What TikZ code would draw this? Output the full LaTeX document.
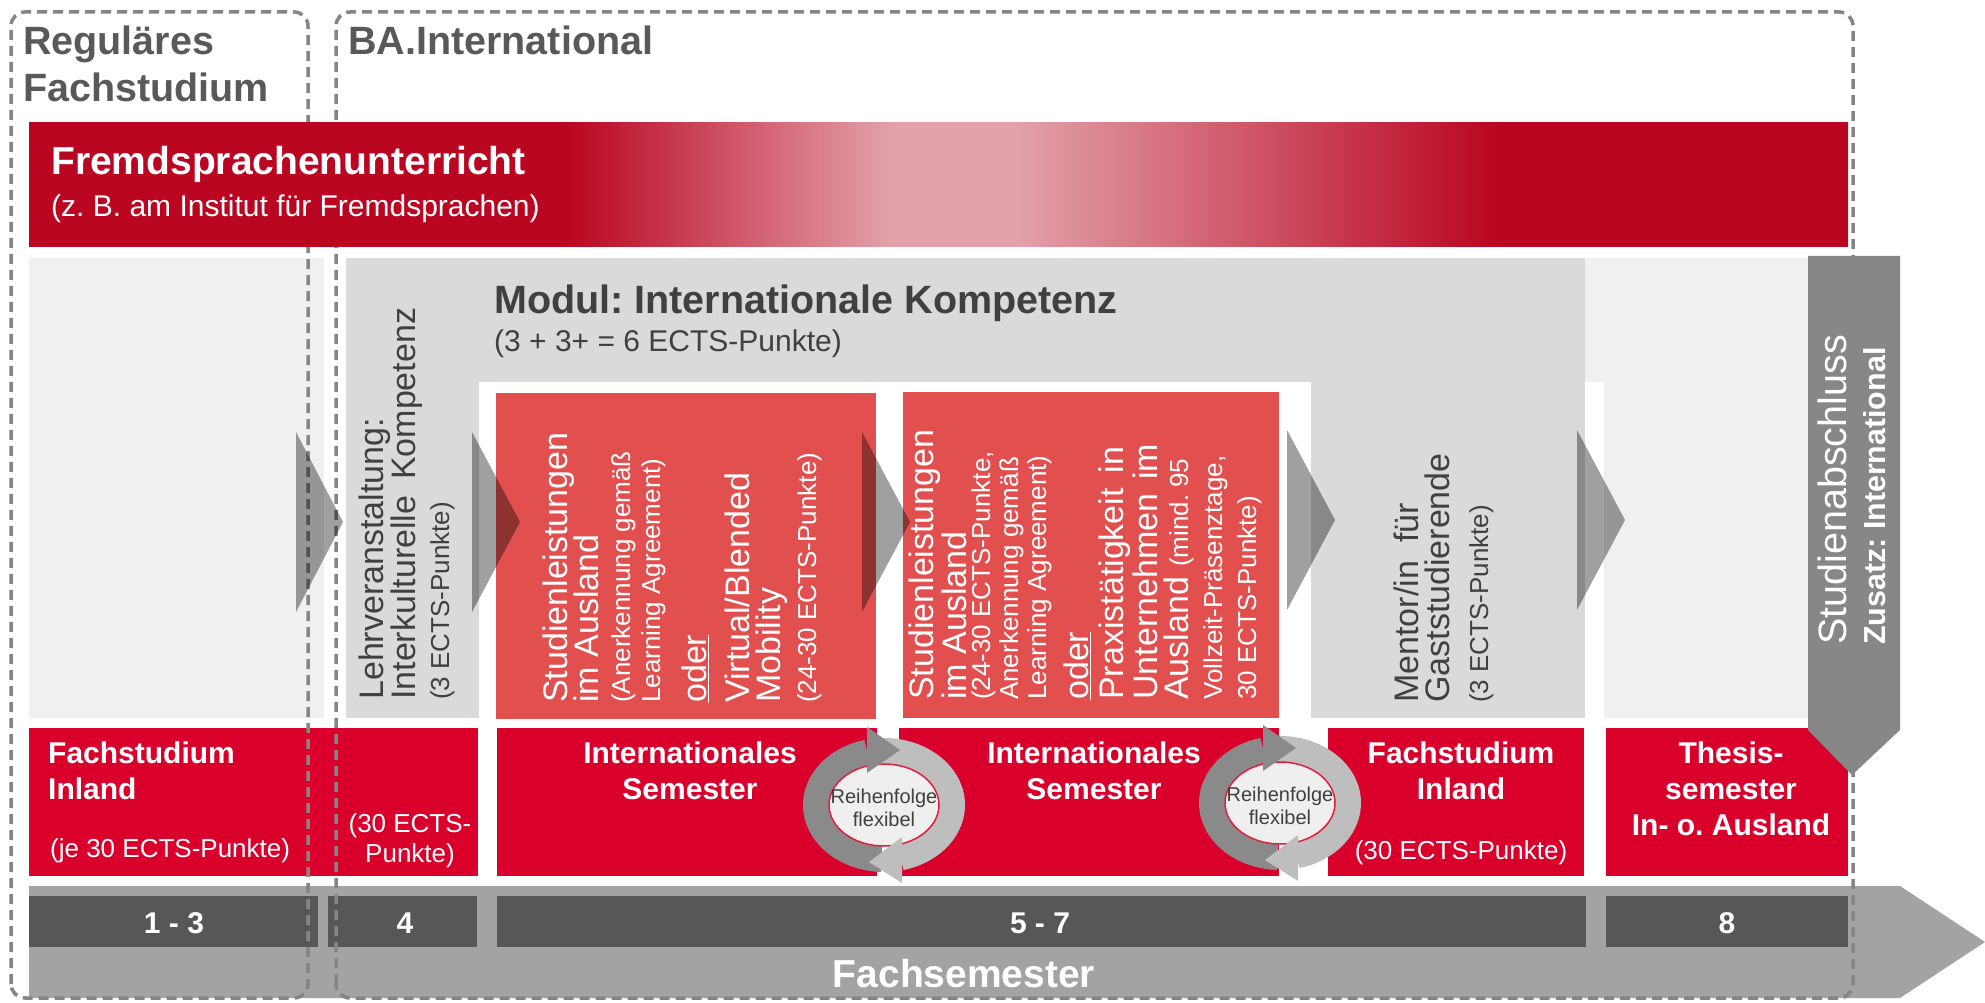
\documentclass[tikz,border=0pt]{standalone}
\usepackage{fontspec}
\setmainfont{Liberation Sans}
\frenchspacing
\definecolor{banddark}{HTML}{BA0621}
\definecolor{bandpink}{HTML}{E3A2AB}
\definecolor{lowred}{HTML}{D9002B}
\definecolor{boxred}{HTML}{E24F4F}
\definecolor{modgray}{HTML}{D9DAD9}
\definecolor{lightbg}{HTML}{F0F0F0}
\definecolor{titlegray}{HTML}{595959}
\definecolor{textgray}{HTML}{404040}
\definecolor{bargray}{HTML}{878787}
\definecolor{tlgray}{HTML}{A3A3A3}
\definecolor{tldark}{HTML}{575757}
\definecolor{dashgray}{HTML}{858585}
\definecolor{chevgray}{HTML}{A0A0A0}
\definecolor{ringdark}{HTML}{8A8A8A}
\definecolor{ringlight}{HTML}{BEBEBE}
\definecolor{innerfill}{HTML}{EFEFEF}
\definecolor{innerline}{HTML}{E0203A}
\pgfdeclarehorizontalshading{bandshade}{100bp}{color(0bp)=(banddark); color(39.8bp)=(banddark); color(48.75bp)=(bandpink); color(52.05bp)=(bandpink); color(65.3bp)=(banddark); color(100bp)=(banddark)}
\newcommand\fsz[1]{\fontsize{#1}{#1}\selectfont}
\tikzset{
  txt/.style={inner sep=0, anchor=base west},
  ctxt/.style={inner sep=0, anchor=base},
  rtxt/.style={inner sep=0, anchor=base west, rotate=90},
  bigf/.style={font=\fsz{34}},
  smallf/.style={font=\fsz{26}},
  semf/.style={font=\bfseries\fsz{30}, text=white},
  dashbox/.style={draw=dashgray, line width=3.5, dash pattern=on 10pt off 6pt, rounded corners=14},
  chevron/.style={fill=chevgray},
}
\newcommand\cycleicon[3]{%
\begin{scope}[shift={(#2,#3)}]
\fill[innerfill] (0,0) ellipse[x radius=56, y radius=42];
\fill[ringdark] (104:81 and 67) arc[start angle=104, end angle=268, x radius=81, y radius=67] -- (268:55 and 41) arc[start angle=268, end angle=104, x radius=55, y radius=41] -- cycle;
\fill[ringlight] (92:81 and 67) arc[start angle=92, end angle=-76, x radius=81, y radius=67] -- (-76:55 and 41) arc[start angle=-76, end angle=92, x radius=55, y radius=41] -- cycle;
\draw[innerline, line width=1.5] (0,0) ellipse[x radius=55, y radius=41];
\fill[ringdark] (-17,78) -- (16,55) -- (-17,32) -- cycle;
\fill[ringlight] (18,-32) -- (-15,-57) -- (18,-78) -- cycle;
\node[ctxt, font=\fsz{20}, text=textgray] (#1a) at (0,2) {Reihenfolge};
\node[ctxt, font=\fsz{20}, text=textgray] (#1b) at (0,-21) {flexibel};
\end{scope}}
\begin{document}
\begin{tikzpicture}[x=1pt,y=1pt]
\useasboundingbox (0,0) rectangle (1985,1002);
% upper panels
\fill[lightbg] (29,284) rectangle (324,744);
\fill[modgray] (346,284) rectangle (1585,744);
\fill[lightbg] (1585,284) rectangle (1808,744);
\fill[white] (479,282) rectangle (1604,620);
\fill[modgray] (1311,284) rectangle (1585,620);
\fill[boxred] (496,283) rectangle (876,609);
\fill[boxred] (903,284) rectangle (1279,610);
% lower row
\fill[lowred] (29,126) rectangle (478,274);
\fill[lowred] (497,126) rectangle (877,274);
\fill[lowred] (899,126) rectangle (1279,274);
\fill[lowred] (1328,126) rectangle (1584,274);
\fill[lowred] (1606,126) rectangle (1848,274);
% timeline
\fill[tlgray] (29,4) -- (29,116) -- (1900,116) -- (1985,60) -- (1900,4) -- cycle;
\fill[tldark] (29,55) rectangle (318,106);
\fill[tldark] (328,55) rectangle (477,106);
\fill[tldark] (497,55) rectangle (1586,106);
\fill[tldark] (1606,55) rectangle (1848,106);
% dashed frames
\draw[dashbox] (11,4) rectangle (308,990);
\draw[dashbox] (336,4) rectangle (1853,990);
% band
\shade[shading=bandshade] (29,755) rectangle (1848,879);
% final bar
\fill[bargray] (1808,746) -- (1900,746) -- (1900,272) -- (1852,227) -- (1808,272) -- cycle;
% chevrons
\begin{scope}[blend mode=multiply]
\fill[chevron] (296,570) -- (343,480) -- (296,390) -- cycle;
\fill[chevron] (472,570) -- (520,480) -- (472,390) -- cycle;
\fill[chevron] (862,570) -- (910,480) -- (862,390) -- cycle;
\fill[chevron] (1287,572) -- (1335,482) -- (1287,392) -- cycle;
\fill[chevron] (1577,572) -- (1625,482) -- (1577,392) -- cycle;
\end{scope}
% cycle icons
\cycleicon{cyA}{884}{197}
\cycleicon{cyB}{1280}{199}
% titles
\node[txt, font=\bfseries\fsz{39.5}, text=titlegray] (t1) at (23,947) {Reguläres};
\node[txt, font=\bfseries\fsz{39.5}, text=titlegray] (t2) at (23,900) {Fachstudium};
\node[txt, font=\bfseries\fsz{39.5}, text=titlegray] (t3) at (348,947) {BA.International};
% band text
\node[txt, font=\bfseries\fsz{39}, text=white] (fs1) at (51,827) {Fremdsprachenunterricht};
\node[txt, font=\fsz{30}, text=white] (fs2) at (51,785) {(z. B. am Institut für Fremdsprachen)};
% module heading
\node[txt, font=\bfseries\fsz{39.5}, text=textgray] (mod1) at (494,688) {Modul: Internationale Kompetenz};
\node[txt, font=\fsz{30}, text=textgray] (mod2) at (494,650) {(3 + 3+ = 6 ECTS-Punkte)};
% Lehrveranstaltung
\node[rtxt, bigf, text=textgray] (l1) at (383,302) {Lehrveranstaltung:};
\node[rtxt, bigf, text=textgray] (l2) at (415,302) {\makebox[392pt][s]{Interkulturelle Kompetenz}};
\node[rtxt, smallf, text=textgray] (l3) at (449,302) {(3 ECTS-Punkte)};
% red box A
\node[rtxt, bigf, text=white] (a1) at (567,299) {Studienleistungen};
\node[rtxt, bigf, text=white] (a2) at (598,299) {im Ausland};
\node[rtxt, smallf, text=white] (a3) at (630,299) {(Anerkennung gemäß};
\node[rtxt, smallf, text=white] (a4) at (660,299) {Learning Agreement)};
\node[rtxt, bigf, text=white] (a5) at (706,299) {\underline{oder}};
\node[rtxt, bigf, text=white] (a6) at (749,299) {Virtual/Blended};
\node[rtxt, bigf, text=white] (a7) at (780,299) {Mobility};
\node[rtxt, smallf, text=white] (a8) at (816,299) {(24-30 ECTS-Punkte)};
% red box B
\node[rtxt, bigf, text=white] (b1) at (933,302) {Studienleistungen};
\node[rtxt, bigf, text=white] (b2) at (966,302) {im Ausland};
\node[rtxt, smallf, text=white] (b3) at (990,302) {(24-30 ECTS-Punkte,};
\node[rtxt, smallf, text=white] (b4) at (1018,302) {Anerkennung gemäß};
\node[rtxt, smallf, text=white] (b5) at (1046,302) {Learning Agreement)};
\node[rtxt, bigf, text=white] (b6) at (1088,302) {\underline{oder}};
\node[rtxt, bigf, text=white] (b7) at (1123,302) {\makebox[253pt][s]{Praxistätigkeit in}};
\node[rtxt, bigf, text=white] (b8) at (1157,302) {\makebox[256pt][s]{Unternehmen im}};
\node[rtxt, bigf, text=white] (b9) at (1188,302) {Ausland\hspace{10pt}{\fsz{26}(mind. 95}};
\node[rtxt, smallf, text=white] (b10) at (1222,302) {Vollzeit-Präsenztage,};
\node[rtxt, smallf, text=white] (b11) at (1256,302) {30 ECTS-Punkte)};
% mentor
\node[rtxt, bigf, text=textgray] (m1) at (1418,299) {\makebox[200pt][s]{Mentor/in für}};
\node[rtxt, bigf, text=textgray] (m2) at (1449,299) {Gaststudierende};
\node[rtxt, smallf, text=textgray] (m3) at (1488,299) {(3 ECTS-Punkte)};
% final bar text
\node[rtxt, font=\fsz{39.5}, text=white] (s1) at (1846,357) {Studienabschluss};
\node[rtxt, font=\bfseries\fsz{30.4}, text=white] (s2) at (1885,357) {Zusatz: International};
% lower row texts
\node[txt, semf] (f1) at (48,239) {Fachstudium};
\node[txt, semf] (f2) at (48,203) {Inland};
\node[txt, smallf, text=white] (f3) at (50,145) {(je 30 ECTS-Punkte)};
\node[ctxt, smallf, text=white] (g1) at (410,170) {(30 ECTS-};
\node[ctxt, smallf, text=white] (g2) at (410,140) {Punkte)};
\node[ctxt, semf] (i1) at (690,239) {Internationales};
\node[ctxt, semf] (i2) at (690,203) {Semester};
\node[ctxt, semf] (j1) at (1094,239) {Internationales};
\node[ctxt, semf] (j2) at (1094,203) {Semester};
\node[ctxt, semf] (h1) at (1461,239) {Fachstudium};
\node[ctxt, semf] (h2) at (1461,203) {Inland};
\node[ctxt, smallf, text=white] (h3) at (1461,143) {(30 ECTS-Punkte)};
\node[ctxt, semf] (k1) at (1731,239) {Thesis-};
\node[ctxt, semf] (k2) at (1731,203) {semester};
\node[ctxt, semf] (k3) at (1731,167) {In- o. Ausland};
% timeline texts
\node[ctxt, semf] (n1) at (174,69) {1 - 3};
\node[ctxt, semf] (n2) at (405,69) {4};
\node[ctxt, semf] (n3) at (1040,69) {5 - 7};
\node[ctxt, semf] (n4) at (1727,69) {8};
\node[ctxt, font=\bfseries\fsz{39}, text=white] (fsem) at (964,15) {Fachsemester};
\end{tikzpicture}
\end{document}
